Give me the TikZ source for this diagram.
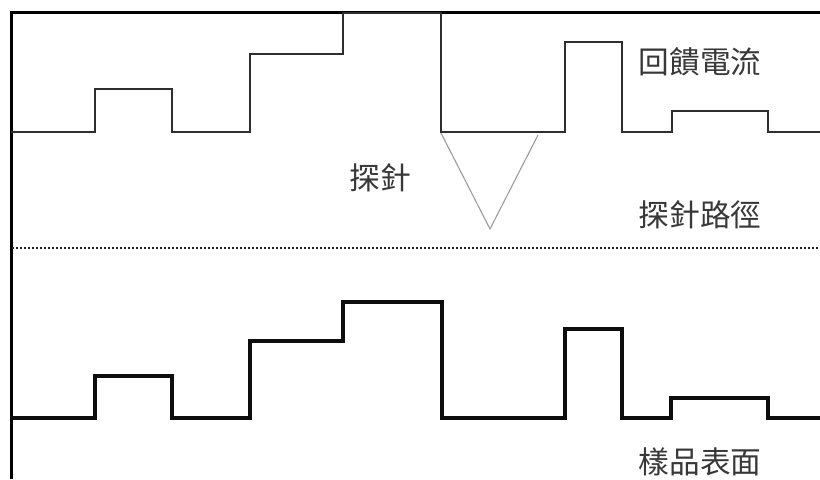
\documentclass[tikz,border=0pt]{standalone}
\usepackage{fontspec}
\newfontfamily\cjk{Noto Sans CJK TC}
\begin{document}
\begin{tikzpicture}[x=0.75pt,y=-0.75pt,
  frame/.style={line width=2.25pt,black},
  feedback/.style={line width=1.6pt,black!82,line join=miter},
  surface/.style={line width=3pt,black!95,line join=miter},
  tip/.style={line width=0.8pt,black!40},
  pathline/.style={line width=1.9pt,black!88,dash pattern=on 1.6pt off 1.4pt},
  lbl/.style={font=\cjk\fontsize{23}{23}\selectfont,text=black!78,inner sep=0pt}]
\useasboundingbox (0,0) rectangle (820,479);
% frame
\draw[frame] (11,479) -- (11,12) -- (820,12);
% feedback current (top waveform)
\draw[feedback] (11,132) -- (95,132) -- (95,89) -- (172,89) -- (172,132) -- (250,132)
  -- (250,54) -- (343,54) -- (343,13) -- (441,13) -- (441,132) -- (565,132)
  -- (565,42) -- (622,42) -- (622,132) -- (672,132) -- (672,111) -- (768,111)
  -- (768,132) -- (820,132);
% probe tip
\coordinate (tl) at (441,133);
\coordinate (tr) at (538,135);
\coordinate (apex) at (490,229);
\draw[tip] (tl) -- (apex) -- (tr);
% probe path
\draw[pathline] (12,248) -- (820,248);
% sample surface (bottom waveform)
\draw[surface] (11,418) -- (95,418) -- (95,376) -- (172,376) -- (172,418) -- (250,418)
  -- (250,341) -- (343,341) -- (343,302) -- (442,302) -- (442,418) -- (565,418)
  -- (565,329) -- (622,329) -- (622,418) -- (671,418) -- (671,398) -- (768,398)
  -- (768,418) -- (820,418);
% labels
\node[lbl] (probe) at (380,178) {探針};
\node[lbl] (fb) at (700,62) {回饋電流};
\node[lbl] (pp) at (700,215) {探針路徑};
\node[lbl] (ss) at (700,462) {樣品表面};
\end{tikzpicture}
\end{document}
